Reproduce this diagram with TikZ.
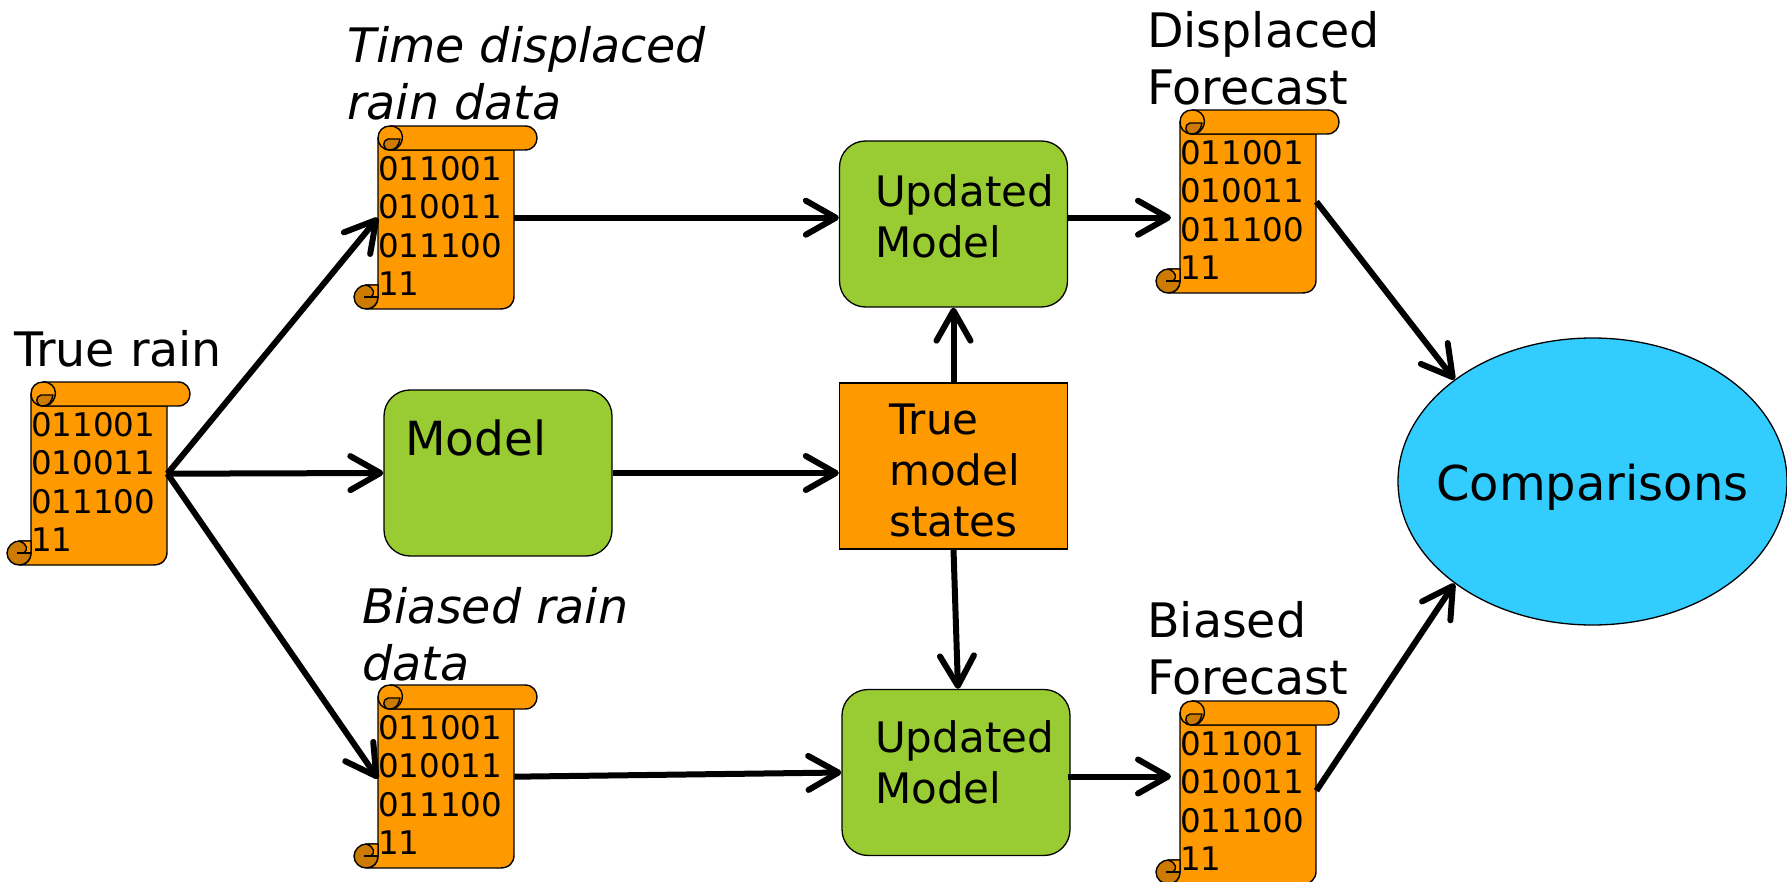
\documentclass[tikz,border=0pt]{standalone}
\usepackage{fontspec}
\setmainfont{DejaVu Sans}
\usetikzlibrary{arrows.meta,shapes.geometric}
\definecolor{orangefill}{HTML}{FF9900}
\definecolor{curlfill}{HTML}{CC7A00}
\definecolor{greenfill}{HTML}{99CC33}
\definecolor{bluefill}{HTML}{33CCFF}
\tikzset{
  x=1pt,y=-1pt,
  flow/.style={line width=6pt,-{Straight Barb[length=30pt,width=34pt,line width=6pt,round]}},
  title/.style={font=\fontsize{47.5}{57}\selectfont,align=left,anchor=north west,inner sep=0pt,text=black},
  ititle/.style={title,font=\fontsize{47.5}{57}\selectfont\itshape},
  greenbox/.style={draw=black,line width=1.3pt,fill=greenfill,rounded corners=26pt,minimum width=228pt,minimum height=166pt,inner sep=0pt},
  boxtext/.style={font=\fontsize{42}{51}\selectfont,align=left,anchor=north west,inner sep=0pt,text=black},
  scrollbody/.style={minimum width=136pt,minimum height=183pt,inner sep=0pt,anchor=north west},
  scrollline/.style={draw=black,line width=1.4pt,line join=round},
  scrolltext/.style={font=\fontsize{32.5}{38.5}\selectfont,align=left,anchor=north west,inner sep=0pt,text=black}
}
\newcommand{\scrollat}[3]{% name, x, y
  \node[scrollbody] (#1) at (#2,#3) {};
  \begin{scope}[shift={(#2,#3)}]
    % body
    \path[scrollline,fill=orangefill] (0,12) -- (0,171) .. controls (0,178) and (-5,183) .. (-11,183)
       -- (122,183) .. controls (131,183) and (136,178) .. (136,170) -- (136,24) -- (12,24) -- cycle;
    % top roll
    \path[scrollline,fill=orangefill] (12,0) -- (147,0) .. controls (163,0) and (163,24) .. (147,24) -- (12,24) .. controls (4,24) and (0,18) .. (0,12) .. controls (0,5) and (5,0) .. (12,0) -- cycle;
    \path[scrollline,fill=curlfill] (22,13) -- (10,13) .. controls (4,14) and (4,24) .. (12,24) .. controls (18,24) and (21,19) .. (22,13) -- cycle;
    \path[scrollline] (12,0) .. controls (28,0) and (28,20) .. (15,24);
    % bottom curl
    \path[scrollline,fill=curlfill] (-12,159) .. controls (-18,159) and (-24,165) .. (-24,171) .. controls (-24,178) and (-18,183) .. (-12,183) .. controls (-5,183) and (0,178) .. (0,171) -- (0,159) -- cycle;
    \path[scrollline,fill=orangefill] (-12,159) -- (0,159) -- (0,171) -- (-7,171) .. controls (-3,168) and (-3,162) .. (-12,159) -- cycle;
    \path[scrollline] (-14,171) -- (0,171);
    \node[scrolltext] (#1t) at (0,30) {011001\\010011\\011100\\11};
  \end{scope}
}
\begin{document}
\begin{tikzpicture}
\useasboundingbox (0,0) rectangle (1787,882);
% titles
\node[title] (t1) at (14,330) {True rain};
\node[ititle] (t2) at (347,26) {Time displaced\\rain data};
\node[ititle] (t3) at (362,587) {Biased rain\\data};
\node[title] (t4) at (1147,11) {Displaced\\Forecast};
\node[title] (t5) at (1147,601) {Biased\\Forecast};
% scrolls
\scrollat{s1}{31}{382}
\scrollat{s2}{378}{126}
\scrollat{s3}{378}{685}
\scrollat{s4}{1180}{110}
\scrollat{s5}{1180}{701}
% boxes
\node[greenbox] (up1) at (953.5,224) {};
\node[boxtext] (up1t) at (875,174) {Updated\\Model};
\node[greenbox] (model) at (498,473) {};
\node[boxtext,font=\fontsize{47}{51}\selectfont] (modelt) at (405,420) {Model};
\node[draw=black,line width=1.3pt,fill=orangefill,minimum width=228pt,minimum height=166pt,inner sep=0pt] (truth) at (953.5,466) {};
\node[boxtext] (trutht) at (889,404) {True\\model\\states};
\node[greenbox] (up2) at (956,772.5) {};
\node[boxtext] (up2t) at (875,720) {Updated\\Model};
\node[draw=black,line width=1.3pt,fill=bluefill,ellipse,minimum width=389pt,minimum height=287pt,inner sep=0pt] (cmp) at (1592.5,481.5) {};
\node[font=\fontsize{48}{50}\selectfont,inner sep=0pt] (cmpt) at (1592.5,487) {Comparisons};
% connectors
\draw[flow] (s1.east) -- (s2.west);
\draw[flow] (s1.east) -- (model.west);
\draw[flow] (s1.east) -- ([yshift=-2pt]s3.west);
\draw[flow] (s2.east) -- (s2.east -| up1.west);
\draw[flow] (up1.east |- s2.east) -- ([xshift=-9pt]s2.east -| s4.west);
\draw[flow] (model.east) -- (model.east -| truth.west);
\draw[flow] (truth.north) -- (up1.south);
\draw[flow] (truth.south) -- ([xshift=2pt]up2.north);
\draw[flow] (s3.east) -- (up2.west);
\draw[flow] ([xshift=-3pt,yshift=-4pt]up2.east) -- ([xshift=-9pt,yshift=-4pt]up2.east -| s5.west);
\draw[flow] (s4.east) -- (cmp.north west);
\draw[flow] ([yshift=2pt]s5.east) -- (cmp.south west);
\end{tikzpicture}
\end{document}
